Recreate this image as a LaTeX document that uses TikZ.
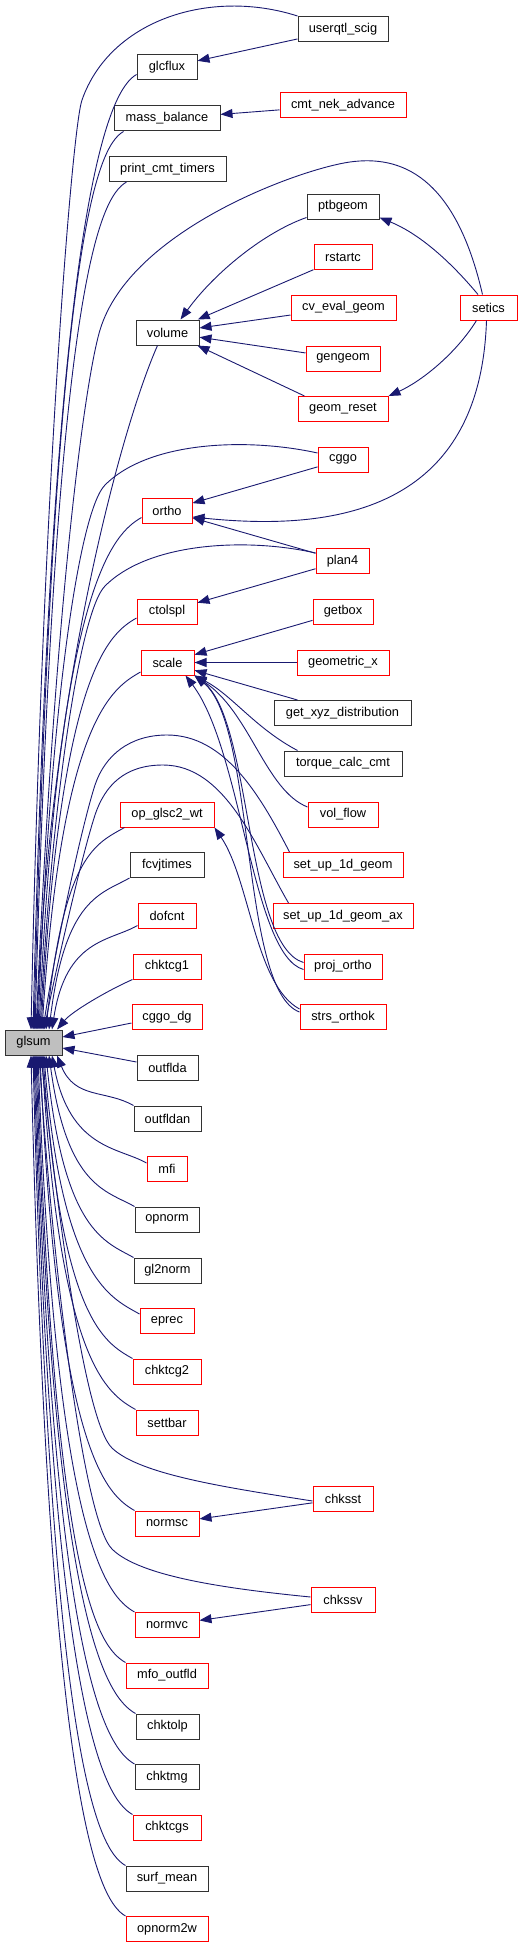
\documentclass[tikz,border=0pt]{standalone}
\usepackage{fontspec}
\setmainfont{Liberation Sans}
\usetikzlibrary{arrows.meta,calc}
\definecolor{edgecol}{RGB}{25,25,112}
\definecolor{redb}{RGB}{255,0,0}
\definecolor{blkb}{RGB}{50,50,50}
\definecolor{glsumfill}{RGB}{191,191,191}
\tikzset{
 fn/.style={draw, line width=1pt, fill=white, inner sep=0pt, minimum height=25pt, font=\fontsize{12.8}{15}\selectfont, text=black},
 rednode/.style={fn, draw=redb},
 blknode/.style={fn, draw=blkb},
 edge/.style={draw=edgecol, line width=0.9pt, -{Triangle[length=12pt,width=9pt]}}
}
\begin{document}
\begin{tikzpicture}[x=1pt,y=-1pt]
\useasboundingbox (0,0) rectangle (531,1948);
% ---- nodes: glsum
\node[blknode, fill=glsumfill, minimum width=57pt] (glsum) at (33.5,1042.5) {glsum};
% ---- middle column
\node[blknode, minimum width=60pt]  (glcflux) at (167,67.5) {glcflux};
\node[blknode, minimum width=106pt] (mass_balance) at (167,118.5) {mass\_balance};
\node[blknode, minimum width=117pt] (print_cmt_timers) at (167.5,169) {print\_cmt\_timers};
\node[blknode, minimum width=63pt]  (volume) at (167.5,332.5) {volume};
\node[rednode, minimum width=50pt]  (ortho) at (167,510.5) {ortho};
\node[rednode, minimum width=60pt]  (ctolspl) at (167,611.5) {ctolspl};
\node[rednode, minimum width=53pt]  (scale) at (167.5,662.5) {scale};
\node[rednode, minimum width=94pt]  (op_glsc2_wt) at (167,814.5) {op\_glsc2\_wt};
\node[blknode, minimum width=74pt]  (fcvjtimes) at (167,865) {fcvjtimes};
\node[rednode, minimum width=58pt]  (dofcnt) at (167,915.5) {dofcnt};
\node[rednode, minimum width=68pt]  (chktcg1) at (167,966.5) {chktcg1};
\node[rednode, minimum width=70pt]  (cggo_dg) at (167,1017) {cggo\_dg};
\node[blknode, minimum width=61pt]  (outflda) at (167.5,1067.5) {outflda};
\node[blknode, minimum width=67pt]  (outfldan) at (167.5,1118.5) {outfldan};
\node[rednode, minimum width=40pt]  (mfi) at (167,1169) {mfi};
\node[blknode, minimum width=64pt]  (opnorm) at (167,1219.5) {opnorm};
\node[blknode, minimum width=67pt]  (gl2norm) at (167.5,1270.5) {gl2norm};
\node[rednode, minimum width=54pt]  (eprec) at (167,1321) {eprec};
\node[rednode, minimum width=68pt]  (chktcg2) at (167,1371.5) {chktcg2};
\node[rednode, minimum width=62pt]  (settbar) at (167,1422.5) {settbar};
\node[rednode, minimum width=64pt]  (normsc) at (167,1523.5) {normsc};
\node[rednode, minimum width=64pt]  (normvc) at (167,1625) {normvc};
\node[rednode, minimum width=82pt]  (mfo_outfld) at (167,1675.5) {mfo\_outfld};
\node[blknode, minimum width=63pt]  (chktolp) at (167.5,1726.5) {chktolp};
\node[blknode, minimum width=64pt]  (chktmg) at (167,1777) {chktmg};
\node[rednode, minimum width=68pt]  (chktcgs) at (167,1827.5) {chktcgs};
\node[blknode, minimum width=82pt]  (surf_mean) at (167,1878.5) {surf\_mean};
\node[rednode, minimum width=82pt]  (opnorm2w) at (167,1929) {opnorm2w};
% ---- right column
\node[blknode, minimum width=90pt]  (userqtl_scig) at (343,29) {userqtl\_scig};
\node[rednode, minimum width=126pt] (cmt_nek_advance) at (343,105) {cmt\_nek\_advance};
\node[blknode, minimum width=72pt]  (ptbgeom) at (343,206.5) {ptbgeom};
\node[rednode, minimum width=58pt]  (rstartc) at (343,257) {rstartc};
\node[rednode, minimum width=105pt] (cv_eval_geom) at (343.5,307.5) {cv\_eval\_geom};
\node[rednode, minimum width=74pt]  (gengeom) at (343,358.5) {gengeom};
\node[rednode, minimum width=90pt]  (geom_reset) at (343,409) {geom\_reset};
\node[rednode, minimum width=50pt]  (cggo) at (343,459.5) {cggo};
\node[rednode, minimum width=53pt]  (plan4) at (342.5,561) {plan4};
\node[rednode, minimum width=60pt]  (getbox) at (343,611.5) {getbox};
\node[rednode, minimum width=92pt]  (geometric_x) at (343,662.5) {geometric\_x};
\node[blknode, minimum width=137pt] (get_xyz_distribution) at (342.5,713) {get\_xyz\_distribution};
\node[blknode, minimum width=118pt] (torque_calc_cmt) at (343,763.5) {torque\_calc\_cmt};
\node[rednode, minimum width=70pt]  (vol_flow) at (343,814.5) {vol\_flow};
\node[rednode, minimum width=120pt] (set_up_1d_geom) at (343,865) {set\_up\_1d\_geom};
\node[rednode, minimum width=140pt] (set_up_1d_geom_ax) at (343,916) {set\_up\_1d\_geom\_ax};
\node[rednode, minimum width=78pt]  (proj_ortho) at (343,966.5) {proj\_ortho};
\node[rednode, minimum width=86pt]  (strs_orthok) at (343,1017) {strs\_orthok};
\node[rednode, minimum width=60pt]  (chksst) at (343,1498.5) {chksst};
\node[rednode, minimum width=64pt]  (chkssv) at (343,1600) {chkssv};
\node[rednode, minimum width=57pt]  (setics) at (488.5,307.5) {setics};
% ---- edges into glsum from above
\draw[edge] (userqtl_scig.north west) .. controls (210,-12) and (110,20) .. (82,100) .. controls (72,128) and (42,500) .. ([xshift=-2.5pt]glsum.north);
\draw[edge] ([yshift=6pt]glcflux.south west) .. controls +(-28,16) and +(20,-830) .. ([xshift=-0.5pt]glsum.north);
\draw[edge] ([xshift=10pt]mass_balance.south west) .. controls +(-28,16) and +(20,-780) .. ([xshift=0.5pt]glsum.north);
\draw[edge] ([xshift=18pt]print_cmt_timers.south west) .. controls +(-28,16) and +(20,-738) .. ([xshift=1.5pt]glsum.north);
\draw[edge] ([xshift=-6pt]setics.north) .. controls (455,175) and (400,155) .. (350,162) .. controls (300,169) and (130,230) .. (100,330) .. controls (85,380) and (55,600) .. ([xshift=2.5pt]glsum.north);
\draw[edge] ([xshift=-10pt]volume.south) .. controls (120,430) and (48,700) .. ([xshift=3.5pt]glsum.north);
\draw[edge] ([yshift=6.5pt]cggo.west) .. controls (250,438) and (150,440) .. (105,485) .. controls (80,510) and (50,700) .. ([xshift=4.5pt]glsum.north);
\draw[edge] ([yshift=-7pt]ortho.west) .. controls +(-28,16) and +(20,-445) .. ([xshift=5.5pt]glsum.north);
\draw[edge] ([yshift=8pt]plan4.west) .. controls (250,538) and (150,541) .. (105,586) .. controls (80,611) and (52,800) .. ([xshift=6.5pt]glsum.north);
\draw[edge] ([yshift=-6.5pt]ctolspl.west) .. controls +(-28,16) and +(20,-358) .. ([xshift=7.5pt]glsum.north);
\draw[edge] ([yshift=-9.5pt]scale.west) .. controls +(-28,16) and +(20,-311) .. ([xshift=8.5pt]glsum.north);
\draw[edge] ([xshift=7pt]set_up_1d_geom.north west) .. controls (260,795) and (225,735) .. (167,735) .. controls (130,735) and (105,755) .. (95,785) .. controls (82,825) and (55,950) .. ([xshift=9.5pt]glsum.north);
\draw[edge] ([xshift=16pt]set_up_1d_geom_ax.north west) .. controls (255,845) and (225,765) .. (163,765) .. controls (125,765) and (105,785) .. (95,815) .. controls (82,855) and (58,960) .. ([xshift=10.5pt]glsum.north);
\draw[edge] ([xshift=5pt]op_glsc2_wt.south west) .. controls +(-28,16) and +(18,-176) .. ([xshift=12.5pt]glsum.north);
\draw[edge] (fcvjtimes.south west) .. controls +(-28,16) and +(16,-132) .. ([xshift=15.5pt]glsum.north);
\draw[edge] ([yshift=3pt]dofcnt.south west) .. controls +(-28,16) and +(14,-91) .. ([xshift=18.5pt]glsum.north);
\draw[edge] (chktcg1.south west) .. controls +(-25,11) and +(15,-18) .. ([xshift=23.5pt]glsum.north);
% ---- edges into glsum from the side
\draw[edge] ([yshift=-6pt]cggo_dg.west) -- ([yshift=5.5pt]glsum.east);
\draw[edge] ([yshift=5.5pt]outflda.west) -- ([yshift=-5.5pt]glsum.east);
% ---- edges into glsum from below
\draw[edge] (outfldan.north west) .. controls +(-28,-16) and +(18,44) .. ([xshift=23.5pt]glsum.south);
\draw[edge] ([yshift=-7pt]mfi.north west) .. controls +(-28,-16) and +(18,94) .. ([xshift=18.5pt]glsum.south);
\draw[edge] (opnorm.north west) .. controls +(-28,-16) and +(18,132) .. ([xshift=15.5pt]glsum.south);
\draw[edge] (gl2norm.north west) .. controls +(-28,-16) and +(18,177) .. ([xshift=12.5pt]glsum.south);
\draw[edge] ([yshift=-6pt]eprec.north west) .. controls +(-28,-16) and +(18,225) .. ([xshift=10.5pt]glsum.south);
\draw[edge] (chktcg2.north west) .. controls +(-28,-16) and +(18,264) .. ([xshift=9.5pt]glsum.south);
\draw[edge] (settbar.north west) .. controls +(-28,-16) and +(18,309) .. ([xshift=8.5pt]glsum.south);
\draw[edge] ([yshift=-2.5pt]chksst.west) .. controls (230,1488) and (140,1475) .. (112,1448) .. controls (84,1421) and (56,1200) .. ([xshift=7.5pt]glsum.south);
\draw[edge] (normsc.north west) .. controls +(-28,-16) and +(18,397) .. ([xshift=6.5pt]glsum.south);
\draw[edge] ([yshift=3pt]chkssv.west) .. controls (230,1589) and (140,1577) .. (112,1549) .. controls (84,1521) and (54,1280) .. ([xshift=5.5pt]glsum.south);
\draw[edge] (normvc.north west) .. controls +(-28,-16) and +(18,485) .. ([xshift=4.5pt]glsum.south);
\draw[edge] (mfo_outfld.north west) .. controls +(-28,-16) and +(18,529) .. ([xshift=3.5pt]glsum.south);
\draw[edge] (chktolp.north west) .. controls +(-28,-16) and +(18,573) .. ([xshift=2.5pt]glsum.south);
\draw[edge] (chktmg.north west) .. controls +(-28,-16) and +(18,617) .. ([xshift=1.5pt]glsum.south);
\draw[edge] (chktcgs.north west) .. controls +(-28,-16) and +(18,661) .. ([xshift=0.5pt]glsum.south);
\draw[edge] (surf_mean.north west) .. controls +(-28,-16) and +(18,706) .. ([xshift=-0.5pt]glsum.south);
\draw[edge] (opnorm2w.north west) .. controls +(-28,-16) and +(18,749) .. ([xshift=-2.5pt]glsum.south);
% ---- other edges
\draw[edge] (userqtl_scig) -- (glcflux);
\draw[edge] (cmt_nek_advance) -- (mass_balance);
\draw[edge] ([yshift=2pt]ptbgeom.south west) .. controls (265,232) and (215,272) .. ([xshift=13pt]volume.north);
\draw[edge] (rstartc) -- (volume);
\draw[edge] (cv_eval_geom) -- (volume);
\draw[edge] (gengeom) -- (volume);
\draw[edge] ([xshift=7pt]geom_reset.north west) -- ([xshift=-2pt]volume.south east);
\draw[edge] ([xshift=-10.5pt]setics.north) .. controls (445,255) and (415,232) .. ([yshift=2pt]ptbgeom.south east);
\draw[edge] ([xshift=-12pt]setics.south) .. controls (455,355) and (420,382) .. (geom_reset.north east);
\draw[edge] ([xshift=-2pt]setics.south) .. controls (480,520) and (320,530) .. ([yshift=-6.5pt]ortho.east);
\draw[edge] (cggo) -- (ortho);
\draw[edge] (plan4) -- (ortho);
\draw[edge] (plan4) -- (ctolspl);
\draw[edge] (getbox) -- (scale);
\draw[edge] (geometric_x) -- (scale);
\draw[edge] (get_xyz_distribution) -- (scale);
\draw[edge] ([xshift=14pt]torque_calc_cmt.north west) .. controls (255,728) and (232,695) .. (scale.south east);
\draw[edge] ([yshift=7.5pt]vol_flow.west) .. controls (265,790) and (250,712) .. (scale.south east);
\draw[edge] ([yshift=4pt]proj_ortho.west) .. controls (245,945) and (252,720) .. (scale.south east);
\draw[edge] ([yshift=5pt]strs_orthok.west) .. controls (240,990) and (256,725) .. (scale.south east);
\draw[edge] ([yshift=-3pt]proj_ortho.west) .. controls (252,955) and (242,750) .. ([xshift=-9pt]scale.south east);
\draw[edge] ([yshift=8pt]strs_orthok.west) .. controls (255,985) and (250,880) .. (op_glsc2_wt.south east);
\draw[edge] (chksst) -- (normsc);
\draw[edge] (chkssv) -- (normvc);
\end{tikzpicture}
\end{document}
